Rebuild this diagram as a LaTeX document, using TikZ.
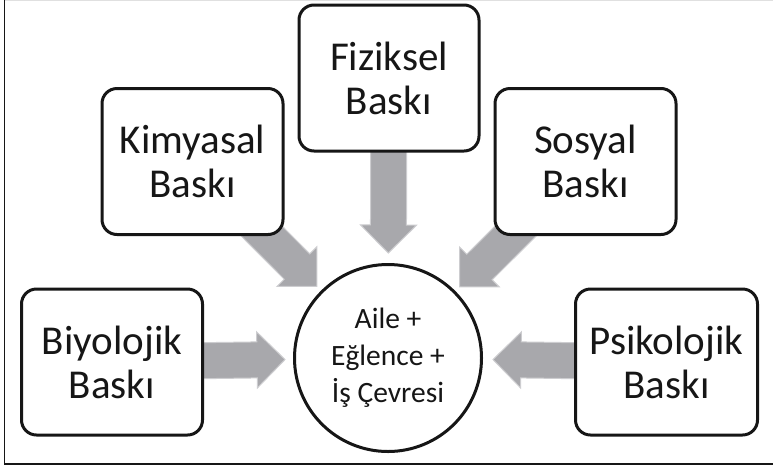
\documentclass[tikz,border=0pt]{standalone}
\usepackage{fontspec}
\setmainfont{Carlito}
\usetikzlibrary{calc}

\definecolor{arrowgray}{RGB}{168,168,172}
\definecolor{arrowedge}{RGB}{205,205,208}
\definecolor{ink}{RGB}{22,22,22}

\pgfdeclarelayer{background}
\pgfsetlayers{background,main}

\tikzset{
  stressbox/.style={draw=ink, fill=white, line width=3pt, rounded corners=15pt,
    minimum width=180pt, minimum height=146pt, inner sep=0pt, align=center,
    text=ink, font=\fontsize{41}{44}\selectfont},
  corecircle/.style={draw=ink, fill=white, line width=3pt, circle,
    minimum size=187pt, inner sep=0pt, align=center, text=ink,
    font=\fontsize{29.5}{37}\selectfont},
  arrowbody/.style={fill=arrowgray, draw=arrowedge, line width=1pt, line join=miter},
  frameline/.style={draw=ink, line width=1.5pt},
}

% Block arrow from the centre of #1 towards #2, tip #3 away from the centre of #2
\newcommand\blockarrow[3]{%
  \path ($(#2.center)!#3!(#1.center)$) coordinate (tip)
        ($(tip)!28pt!(#1.center)$) coordinate (neck)
        (#1.center) coordinate (tail);
  \filldraw[arrowbody]
    ($(tail)!18pt!90:(tip)$) -- ($(neck)!18pt!90:(tip)$) --
    ($(neck)!28pt!90:(tip)$) -- (tip) --
    ($(neck)!28pt!-90:(tip)$) -- ($(neck)!18pt!-90:(tip)$) --
    ($(tail)!18pt!-90:(tip)$) -- cycle;
}

\begin{document}
\begin{tikzpicture}[x=1pt, y=-1pt]
  \useasboundingbox (0,0) rectangle (773,467);

  % outer frame
  \draw[draw=black!12, line width=1pt] (4,0.5) -- (773,0.5);
  \draw[frameline] (4.5,0) -- (4.5,464) -- (773,464);

  % pressure sources
  \node[stressbox] (fiz) at (389,78)    {Fiziksel\\Baskı};
  \node[stressbox, minimum width=181pt] (kim) at (192.5,161.5) {Kimyasal\\Baskı};
  \node[stressbox, minimum width=181pt] (sos) at (585.5,161.5) {Sosyal\\Baskı};
  \node[stressbox, minimum width=181pt] (biy) at (112,362)   {Biyolojik\\Baskı};
  \node[stressbox, minimum width=182pt] (psi) at (666.5,362) {Psikolojik\\Baskı};

  % centre
  \node[corecircle] (core) at (388,358) {Aile +\\Eğlence +\\İş Çevresi};

  % white ground and block arrows behind the boxes
  \begin{pgfonlayer}{background}
    \fill[white] (0,0) rectangle (773,467);
    \blockarrow{fiz}{core}{105pt}
    \blockarrow{kim}{core}{101pt}
    \blockarrow{sos}{core}{101pt}
    \blockarrow{biy}{core}{103pt}
    \blockarrow{psi}{core}{105pt}
  \end{pgfonlayer}
\end{tikzpicture}
\end{document}
